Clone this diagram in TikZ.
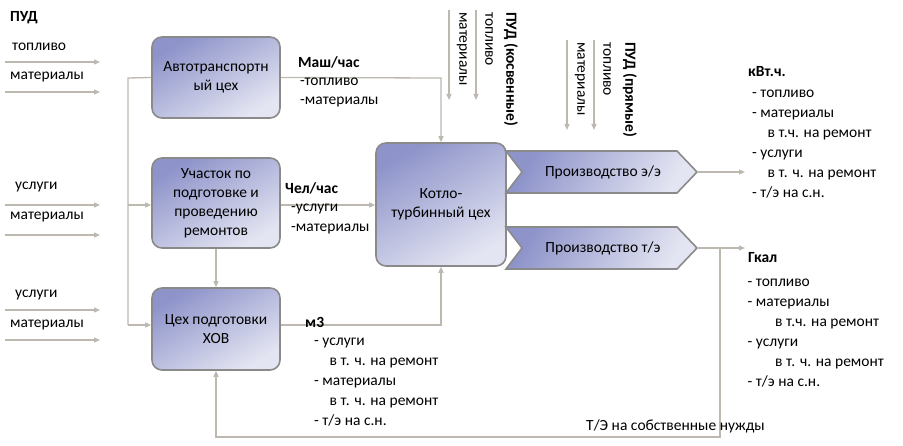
\documentclass[tikz,border=0pt]{standalone}
\usepackage{fontspec}
\setmainfont{Carlito}
\usetikzlibrary{arrows.meta}
\definecolor{bdark}{HTML}{8E94CA}
\definecolor{blight}{HTML}{E4E5F2}
\definecolor{ln}{HTML}{BDB8B0}
\definecolor{bd}{HTML}{8A8A8A}
\begin{document}
\begin{tikzpicture}[x=1pt,y=-1pt,
 box/.style={draw=bd,line width=1.6pt,rounded corners=10pt,top color=bdark,bottom color=blight,shading angle=30,align=center,font=\fontsize{15.5}{19}\selectfont},
 ar/.style={draw=ln,line width=1.3pt,-{Triangle[width=5pt,length=6pt]}},
 ln/.style={draw=ln,line width=1.3pt},
 t/.style={font=\fontsize{15.5}{20}\selectfont,anchor=west,inner sep=0},
 tb/.style={t,font=\fontsize{15.5}{20}\selectfont\bfseries},
 lst/.style={t,anchor=north west,align=left},
 rt/.style={font=\fontsize{15.5}{18}\selectfont,rotate=-90,anchor=west,inner sep=0}]
\useasboundingbox (0,0) rectangle (903,446);
\fill[white] (0,0) rectangle (903,446);
% boxes
\node[box,minimum width=128pt,minimum height=81pt] (auto) at (216,77.5) {Автотранспортн\\ый цех};
\node[box,minimum width=128pt,minimum height=90pt] (uch) at (216,203) {Участок по\\подготовке и\\проведению\\ремонтов};
\node[box,minimum width=128pt,minimum height=82pt] (hov) at (216,329) {Цех подготовки\\ХОВ};
\node[box,minimum width=130pt,minimum height=123pt] (kt) at (441,204.5) {Котло-\\турбинный цех};
% chevrons
\shade[draw=bd,line width=1.6pt,top color=bdark,bottom color=blight,shading angle=60] (506,151)--(677,151)--(697,172)--(677,193)--(506,193)--(522,172)--cycle;
\node[font=\fontsize{15.5}{18}\selectfont] (ee) at (603,172) {Производство э/э};
\shade[draw=bd,line width=1.6pt,top color=bdark,bottom color=blight,shading angle=60] (506,227)--(677,227)--(697,248)--(677,269)--(506,269)--(522,248)--cycle;
\node[font=\fontsize{15.5}{18}\selectfont] (te) at (603,248) {Производство т/э};
\coordinate (eeo) at (697,172); \coordinate (teo) at (697,248);
\coordinate (eeend) at (745,172); \coordinate (teend) at (745,248);
\draw[ar] (eeo)--(eeend);
\draw[ar] (teo)--(teend);
\coordinate (br) at (720,248);
\draw[ar] (br)--(720,437)--(216,437)--(hov.south);
\node[t] at (586,426) {Т/Э на собственные нужды};
% trunk
\draw[ln] (auto.west)--(128,78)--(128,325);
\draw[ar] (128,205)--(uch.west|-0,205);
\draw[ar] (128,325)--(hov.west|-0,325);
\draw[ar] (uch.south)--(hov.north);
\draw[ar] (auto.east)--(441,78)--(kt.north);
\draw[ar] (uch.east|-0,205)--(kt.west|-0,205);
\draw[ar] (hov.east|-0,325)--(441,325)--(kt.south);
% left inputs
\foreach \y in {62,92,205,235,310,340}{\coordinate (i\y) at (5,\y); \coordinate (j\y) at (100,\y); \draw[ar] (i\y)--(j\y);}
\node[tb] at (10,18) {ПУД};
\node[t] at (12,47) {топливо};
\node[t] at (10,77) {материалы};
\node[t] at (15,187) {услуги};
\node[t] at (10,217) {материалы};
\node[t] at (15,295) {услуги};
\node[t] at (10,325) {материалы};
% top inputs
\foreach \x/\a/\b in {449/10/100,476/10/100,567/40/130,594/40/130}{\coordinate (a\x) at (\x,\a); \coordinate (b\x) at (\x,\b); \draw[ar] (a\x)--(b\x);}
\node[rt] at (462,12) {материалы};
\node[rt] at (489,12) {топливо};
\node[rt,font=\fontsize{15.5}{18}\selectfont\bfseries] at (511,12) {ПУД (косвенные)};
\node[rt] at (580,42) {материалы};
\node[rt] at (607,42) {топливо};
\node[rt,font=\fontsize{15.5}{18}\selectfont\bfseries] at (630,42) {ПУД (прямые)};
% labels
\node[tb] at (298,62) {Маш/час};
\node[t] at (300,82) {-топливо};
\node[t] at (300,102) {-материалы};
\node[tb] at (285,188) {Чел/час};
\node[t] at (291,209) {-услуги};
\node[t] at (291,229) {-материалы};
\node[tb] at (305,322) {м3};
\node[lst] at (314,338) {- услуги\\\quad в т. ч. на ремонт\\- материалы\\\quad в т. ч. на ремонт\\- т/э на с.н.};
\node[tb] at (748,72) {кВт.ч.};
\node[lst] at (752,90) {- топливо\\- материалы\\\quad в т.ч. на ремонт\\- услуги\\\quad в т. ч. на ремонт\\- т/э на с.н.};
\node[tb] at (748,258) {Гкал};
\node[lst] at (744,279) {\ - топливо\\\ - материалы\\\qquad в т.ч. на ремонт\\\ - услуги\\\qquad в т. ч. на ремонт\\\ - т/э на с.н.};
\end{tikzpicture}
\end{document}
